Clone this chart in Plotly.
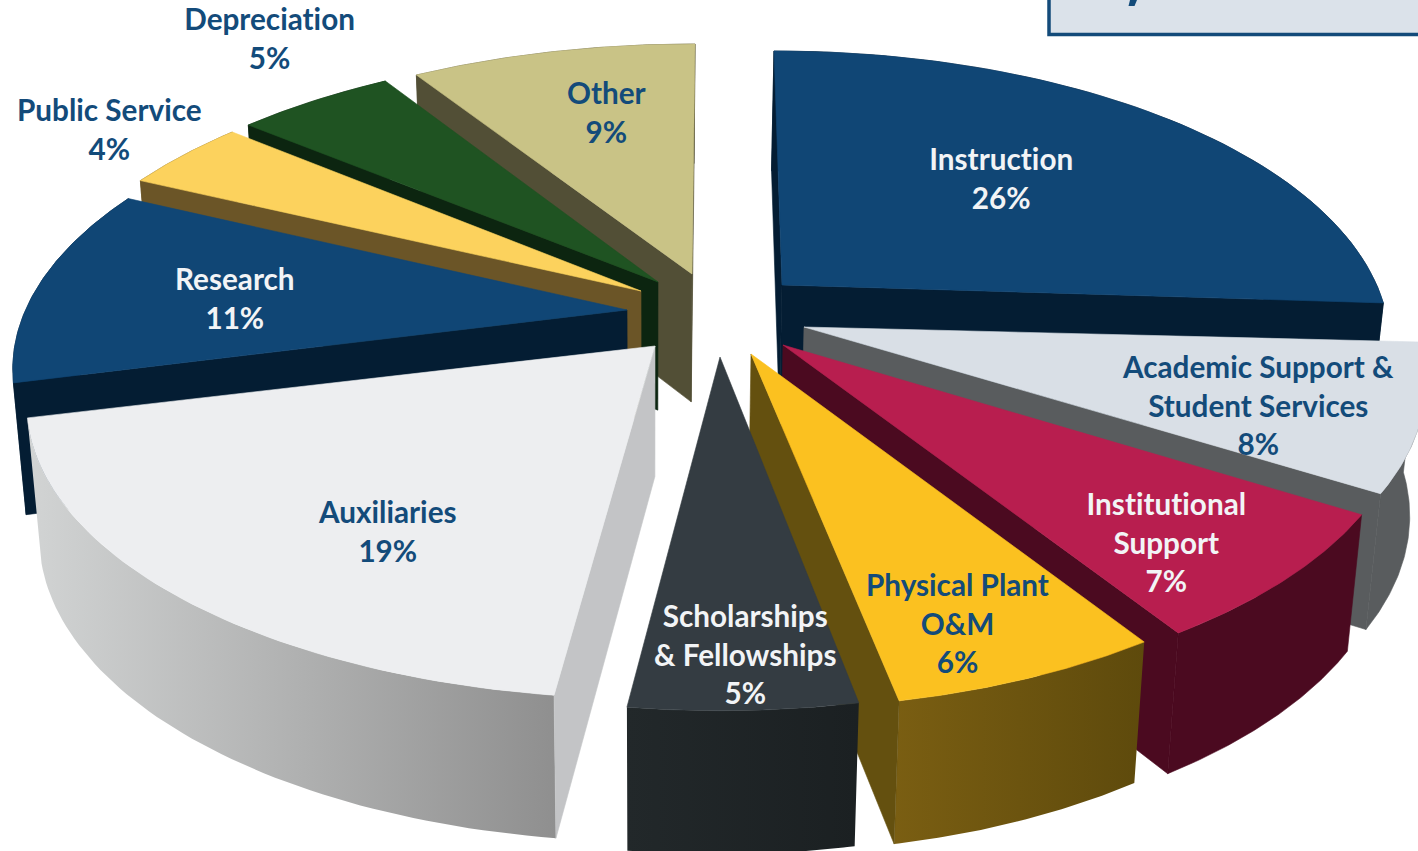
import math
import plotly.graph_objects as go

categories = ["Instruction", "Academic Support &<br>Student Services", "Institutional<br>Support",
              "Physical Plant<br>O&M", "Scholarships<br>& Fellowships", "Auxiliaries",
              "Research", "Public Service", "Depreciation", "Other"]
values = [26, 8, 7, 6, 5, 19, 11, 4, 5, 9]

top_colors = ["#104675", "#d9dfe6", "#b81e4f", "#fbc120", "#343c42", "#edeef0", "#104675", "#fcd25d", "#1f5322", "#c9c386"]
side_colors = ["#041d33", "#595c5e", "#4b0a20", "#64500f", "#1f2426", "#c3c4c6", "#041d33", "#6b5527", "#0c2510", "#524f36"]
wall_left = ["#041d33", "#595c5e", "#4b0a20", "#7a5e12", "#22282a", "#d2d4d4", "#041d33", "#6b5527", "#0c2510", "#524f36"]
wall_right = ["#041d33", "#595c5e", "#4b0a20", "#5e4a0c", "#1b2022", "#8f8f8f", "#041d33", "#6b5527", "#0c2510", "#524f36"]
text_colors = ["#f2f4f6", "#134b7a", "#f2f4f6", "#134b7a", "#f2f4f6", "#134b7a", "#f2f4f6", "#134b7a", "#134b7a", "#134b7a"]

# pulled-out apex of each slice and the small shift of its rim, in plot units
apex_x = [782, 804, 783, 751, 720, 655, 627, 641, 658, 692]
apex_y = [285, 327, 345, 354, 357, 346, 310, 291, 282, 274]
rim_dx = [-8, -2, 0, 9, 0, -5, 9, 7, 6, 3]
rim_dy = [0, -3, 0, 0, -1, -2, -1, 0, 2, 4]
rim_sx = [0.988, 1, 1, 0.972, 0.97, 1, 1, 1, 1, 1]
label_x = [1001, 1258, 1166, 957, 745, 387, 235, 109, 269, 606]
label_y = [178, 405, 542, 623, 654, 531, 298, 129, 38, 112]
draw_order = [0, 1, 2, 3, 4, 9, 8, 7, 6, 5]

RX, RY, K = 610, 282, 0.205
VX, SHRINK = 650, 0.02


def height(y):
    return 118 + 0.036 * y


def top(i, deg):
    t = math.radians(deg)
    u, v = math.sin(t), -math.cos(t)
    f = 1 / (1 - K * v)
    return (apex_x[i] + rim_dx[i] + RX * rim_sx[i] * u * f,
            apex_y[i] + rim_dy[i] + RY * v * f)


def low(p):
    return p[0] - SHRINK * (p[0] - VX), p[1] + height(p[1])


def area(pts):
    s = 0
    for a, b in zip(pts, pts[1:] + pts[:1]):
        s += a[0] * b[1] - b[0] * a[1]
    return s


fig = go.Figure()


def poly(pts, color, grad=None):
    kw = dict(x=[p[0] for p in pts] + [pts[0][0]], y=[p[1] for p in pts] + [pts[0][1]],
              mode="lines", fill="toself", hoverinfo="skip", showlegend=False)
    if grad:
        kw["fillgradient"] = dict(type="horizontal", colorscale=[[0, grad[0]], [1, grad[1]]])
        kw["line"] = dict(width=0, color=grad[1])
    else:
        kw["fillcolor"] = color
        kw["line"] = dict(width=0.6, color=color)
    fig.add_trace(go.Scatter(**kw))


starts = []
acc = 0
for val in values:
    starts.append(acc)
    acc += val
total = acc

for i in draw_order:
    a0 = starts[i] / total * 360
    a1 = (starts[i] + values[i]) / total * 360
    arc = [top(i, a0 + (a1 - a0) * k / 60) for k in range(61)]
    apex = (apex_x[i], apex_y[i])
    # outer wall
    wall = arc + [low(p) for p in reversed(arc)]
    grad = (wall_left[i], wall_right[i]) if wall_left[i] != wall_right[i] else None
    poly(wall, wall_left[i], grad)
    # cut faces
    f0 = [apex, arc[0], low(arc[0]), low(apex)]
    f1 = [apex, arc[-1], low(arc[-1]), low(apex)]
    if area(f0) < 0:
        poly(f0, side_colors[i])
    if area(f1) > 0:
        poly(f1, side_colors[i])
    # top face
    poly([apex] + arc, top_colors[i])

annotations = []
for i, c in enumerate(categories):
    annotations.append(dict(x=label_x[i], y=label_y[i], xref="x", yref="y",
                            text=f"{c}<br>{values[i]}%", showarrow=False,
                            xanchor="center", yanchor="middle", align="center",
                            font=dict(family="Lato", size=29.7, color=text_colors[i], weight=700)))

fig.update_layout(
    width=1418, height=851, margin=dict(l=0, r=0, t=0, b=0), autosize=False,
    paper_bgcolor="white", plot_bgcolor="white",
    xaxis=dict(range=[0, 1418], visible=False, fixedrange=True),
    yaxis=dict(range=[851, 0], visible=False, fixedrange=True),
    shapes=[dict(type="rect", x0=1049, x1=1430, y0=-10, y1=34.5, xref="x", yref="y",
                 fillcolor="#dbe2ea", line=dict(color="#134b7a", width=3.5)),
            dict(type="path", path="M1128.5,6 L1134.5,6 L1137,0 L1130,0 Z", xref="x", yref="y",
                 fillcolor="#134b7a", line=dict(width=0))],
    annotations=annotations,
)
fig.write_html("out.html", config={"displayModeBar": False},
               post_script="document.body.style.margin='0';document.documentElement.style.overflow='hidden';"
                           "var s=document.createElement('style');"
                           "s.textContent='svg text{font-variant-ligatures:none !important;font-feature-settings:\"liga\" 0 !important;}';"
                           "document.head.appendChild(s);")
